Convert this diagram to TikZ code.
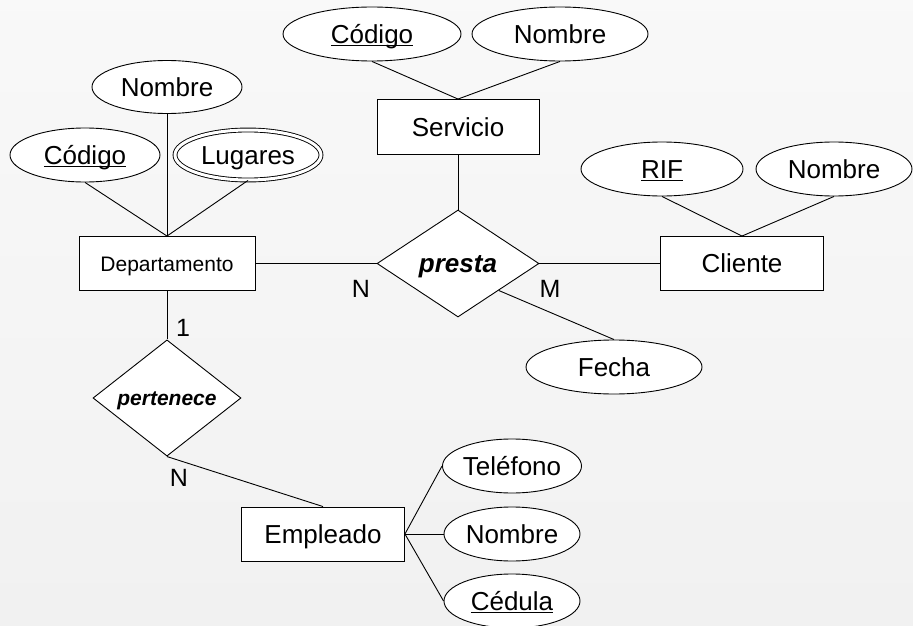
\documentclass[tikz,border=0pt]{standalone}
\usepackage{fontspec}
\setmainfont{Liberation Sans}
\usetikzlibrary{shapes.geometric}
\newcommand\ulx[1]{\setbox0\hbox{#1}\rlap{\rule[-3pt]{\wd0}{1.1pt}}\box0}
\begin{document}
\begin{tikzpicture}[x=1pt,y=-1pt,
  every node/.style={font=\fontsize{26}{30}\selectfont,text height=20pt,text depth=1.4pt},
  small/.style={font=\fontsize{21}{25}\selectfont,text height=16pt,text depth=1pt},
  attr/.style={ellipse,draw,fill=white,line width=0.9pt,inner sep=0pt},
  entity/.style={rectangle,draw,fill=white,line width=0.9pt,inner sep=0pt},
  rel/.style={diamond,draw,fill=white,line width=0.9pt,inner sep=0pt},
  conn/.style={line width=0.9pt},
  card/.style={font=\fontsize{25}{28}\selectfont,inner sep=0pt,text height=18pt,text depth=0pt}]
\useasboundingbox (0,0) rectangle (913,626);
\shade[top color=gray!5,bottom color=gray!11] (0,0) rectangle (913,626);
% entities
\node[entity,minimum width=162,minimum height=55] (serv) at (458,127) {Servicio};
\node[entity,small,minimum width=176,minimum height=54] (dep) at (167,263.5) {Departamento};
\node[entity,minimum width=163,minimum height=54] (cli) at (742,263.5) {Cliente};
\node[entity,minimum width=163,minimum height=54] (emp) at (323,534) {Empleado};
% relationships
\node[rel,minimum width=162,minimum height=107] (presta) at (458,263.5) {\bfseries\itshape presta};
\node[rel,small,minimum width=148,minimum height=109] (pert) at (167,398) {\bfseries\itshape pertenece};
% attributes
\node[attr,minimum width=178,minimum height=54] (scod) at (372,34) {\ulx{Código}};
\node[attr,minimum width=176,minimum height=54] (snom) at (560,34) {Nombre};
\node[attr,minimum width=150,minimum height=53] (dnom) at (167,87) {Nombre};
\node[attr,minimum width=150,minimum height=54] (dcod) at (85,155) {\ulx{Código}};
\node[attr,minimum width=146,minimum height=50,double,double distance=3pt] (dlug) at (248,155) {Lugares};
\node[attr,minimum width=162,minimum height=54] (rif) at (662,169) {\ulx{RIF}};
\node[attr,minimum width=156,minimum height=54] (cnom) at (834,169) {Nombre};
\node[attr,minimum width=176,minimum height=54] (fecha) at (614,367) {Fecha};
\node[attr,minimum width=136,minimum height=54] (tel) at (512,466) {Teléfono};
\node[attr,minimum width=136,minimum height=54] (enom) at (512,534) {Nombre};
\node[attr,minimum width=136,minimum height=54] (ced) at (512,601) {\ulx{Cédula}};
% connectors
\draw[conn] (scod.south) -- (serv.north);
\draw[conn] (snom.south) -- (serv.north);
\draw[conn] (serv.south) -- (presta.north);
\draw[conn] (dnom.south) -- (dep.north);
\draw[conn] (dcod.south) -- (dep.north);
\draw[conn] (dlug.south) -- (dep.north);
\draw[conn] (dep.east) -- (presta.west);
\draw[conn] (presta.east) -- (cli.west);
\draw[conn] (rif.south) -- (cli.north);
\draw[conn] (cnom.south) -- (cli.north);
\draw[conn] (presta.south east) -- (fecha.north);
\draw[conn] (dep.south) -- (pert.north);
\draw[conn] (pert.south) -- (emp.north);
\draw[conn] (emp.east) -- (tel.west);
\draw[conn] (emp.east) -- (enom.west);
\draw[conn] (emp.east) -- (ced.west);
% cardinalities
\node[card] (cN1) at (361,288) {N};
\node[card] (cM) at (550,288) {M};
\node[card] (c1) at (183,327) {1};
\node[card] (cN2) at (179,477) {N};
\end{tikzpicture}
\end{document}
